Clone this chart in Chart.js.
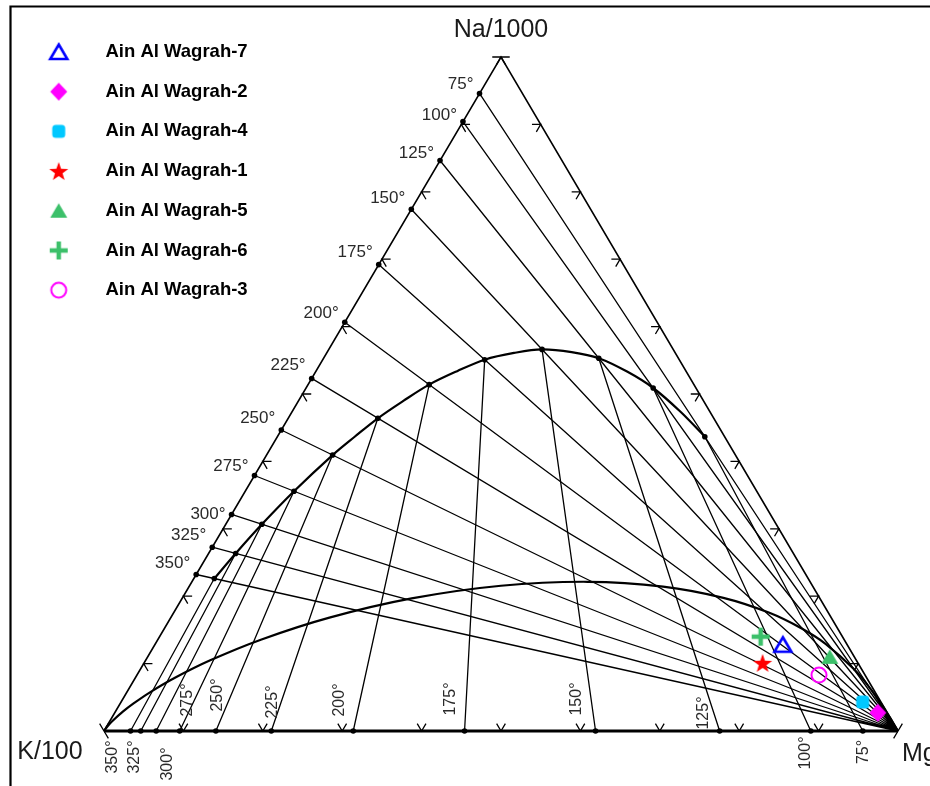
<!DOCTYPE html>
<html>
<head>
<meta charset="utf-8">
<script src="https://cdn.jsdelivr.net/npm/chart.js@4/dist/chart.umd.min.js"></script>
<style>
  html, body { margin: 0; padding: 0; background: #fff; }
  #wrap { width: 930px; height: 786px; }
</style>
</head>
<body>
<div id="wrap"><canvas id="c" width="930" height="786"></canvas></div>
<script>
// ---------------- DATA ----------------
// Giggenbach Na-K-Mg ternary diagram; all compositions are fractions of (Na/1000 + K/100 + sqrt(Mg)).
const temps = [75, 100, 125, 150, 175, 200, 225, 250, 275, 300, 325, 350];
const tempLabels = ['75°', '100°', '125°', '150°', '175°', '200°', '225°', '250°', '275°', '300°', '325°', '350°'];

// K-Na isotherms: Na/1000 fraction where each isotherm meets the Na–K side
const naSideNa = [0.9459, 0.9042, 0.8464, 0.7741, 0.6920, 0.6065, 0.5231, 0.4466, 0.3791, 0.3213, 0.2727, 0.2322];
// K-Mg isotherms: K/100 fraction where each isotherm meets the K–Mg side
const kmgSideK = [0.0443, 0.1098, 0.2246, 0.3809, 0.5459, 0.6861, 0.7893, 0.8591, 0.9047, 0.9343, 0.9537, 0.9666];
// Full-equilibrium points (intersection of the two isotherms of the same temperature)
const eqNa = [0.4366, 0.5089, 0.5531, 0.5662, 0.5509, 0.5139, 0.4640, 0.4094, 0.3558, 0.3067, 0.2634, 0.2262];
const eqMg = [0.5384, 0.4372, 0.3466, 0.2686, 0.2040, 0.1526, 0.1129, 0.0832, 0.0614, 0.0455, 0.0341, 0.0258];

// Full equilibrium line (350° -> 75°)
const fullEqNa = [0.2262, 0.2634, 0.3067, 0.3558, 0.4094, 0.4366, 0.4640, 0.4898, 0.5139, 0.5339, 0.5509, 0.5609, 0.5662, 0.5621, 0.5531, 0.5329, 0.5089, 0.4736, 0.4366];
const fullEqMg = [0.0258, 0.0341, 0.0455, 0.0614, 0.0832, 0.0974, 0.1129, 0.1321, 0.1526, 0.1778, 0.2040, 0.2360, 0.2686, 0.3079, 0.3466, 0.3929, 0.4372, 0.4893, 0.5384];

// Partial equilibrium (immature waters) line, K vertex -> Mg vertex
const partEqNa = [0, 0.0070, 0.0144, 0.0290, 0.0409, 0.0570, 0.0782, 0.1048, 0.1358, 0.1682, 0.1967, 0.2155, 0.2214, 0.2143, 0.1976, 0.1757, 0.1521, 0.1293, 0.0901, 0.0611, 0.0409, 0.0271, 0.0179, 0];
const partEqMg = [0, 0.0010, 0.0031, 0.0096, 0.0168, 0.0289, 0.0491, 0.0814, 0.1305, 0.1998, 0.2891, 0.3922, 0.4983, 0.5970, 0.6813, 0.7494, 0.8027, 0.8441, 0.9009, 0.9359, 0.9580, 0.9726, 0.9820, 1];

// Side graduations (fraction along each side)
const sideTicks = [0, 0.1, 0.2, 0.3, 0.4, 0.5, 0.6, 0.7, 0.8, 0.9, 1];

// Samples (% of Na/1000, K/100, sqrt(Mg))
const sampleNames = ['Ain Al Wagrah-7', 'Ain Al Wagrah-2', 'Ain Al Wagrah-4', 'Ain Al Wagrah-1', 'Ain Al Wagrah-5', 'Ain Al Wagrah-6', 'Ain Al Wagrah-3'];
const sampleNa = [12.8, 2.7, 4.3, 10.1, 11.0, 14.0, 8.3];
const sampleK  = [8.1, 1.2, 2.3, 12.0, 3.1, 10.3, 5.8];
const sampleMg = [79.1, 96.1, 93.4, 77.9, 85.9, 75.7, 85.9];

// ---------------- LAYOUT / STYLE ----------------
const W = 930, H = 786, PAD_TOP = 21;
const VX0 = 104, VX1 = 898, VY0 = 731, VY1 = 57;   // where the triangle vertices sit
const UX = VX1 - VX0, UY = VY0 - VY1;
const FONT = '"Liberation Sans", Arial, Helvetica, sans-serif';
const TICK = 0.011;
const leftLabelDy = [-9, -6, -7, -11, -12, -9, -13, -12, -9, 0, -12, -11];
const bottomLabelOff = [[1, 21], [-5, 22], [-16, -18], [-19, -32], [-14, -32], [-14, -31], [1, -29], [2, -36], [8, -31], [11, 33], [-6, 26], [-18, 26]];

// ternary (Na, Mg fractions) -> plane
const V = (na, mg) => ({ x: mg + na / 2, y: na });
const GAP = { x: NaN, y: NaN };

// ---------------- MARKERS ----------------
function marker(size, draw) {
  const c = document.createElement('canvas');
  c.width = size; c.height = size;
  const g = c.getContext('2d');
  draw(g, size / 2);
  return c;
}
const GREEN = '#3cc06a';
const markers = [
  marker(24, (g, m) => { g.strokeStyle = '#0000ff'; g.lineWidth = 2.6; g.beginPath(); g.moveTo(m, m - 7.5); g.lineTo(m + 8.5, m + 7); g.lineTo(m - 8.5, m + 7); g.closePath(); g.stroke(); }),
  marker(22, (g, m) => { g.fillStyle = '#ff00ff'; g.beginPath(); g.moveTo(m, m - 9); g.lineTo(m + 8.5, m); g.lineTo(m, m + 9); g.lineTo(m - 8.5, m); g.closePath(); g.fill(); }),
  marker(18, (g, m) => { g.fillStyle = '#00c8ff'; const s = 6.5, r = 3.5; g.beginPath();
    g.moveTo(m - s + r, m - s); g.lineTo(m + s - r, m - s); g.arcTo(m + s, m - s, m + s, m - s + r, r);
    g.lineTo(m + s, m + s - r); g.arcTo(m + s, m + s, m + s - r, m + s, r);
    g.lineTo(m - s + r, m + s); g.arcTo(m - s, m + s, m - s, m + s - r, r);
    g.lineTo(m - s, m - s + r); g.arcTo(m - s, m - s, m - s + r, m - s, r); g.closePath(); g.fill(); }),
  marker(24, (g, m) => { g.fillStyle = '#ff0000'; g.beginPath();
    for (let k = 0; k < 10; k++) { const r = k % 2 ? 4 : 10; const a = -Math.PI / 2 + k * Math.PI / 5;
      const px = m + r * Math.cos(a), py = m + 1 + r * Math.sin(a); k ? g.lineTo(px, py) : g.moveTo(px, py); }
    g.closePath(); g.fill(); }),
  marker(22, (g, m) => { g.fillStyle = GREEN; g.beginPath(); g.moveTo(m, m - 7.5); g.lineTo(m + 8.5, m + 7); g.lineTo(m - 8.5, m + 7); g.closePath(); g.fill(); }),
  marker(22, (g, m) => { g.strokeStyle = GREEN; g.lineWidth = 4.5; g.beginPath(); g.moveTo(m - 9, m); g.lineTo(m + 9, m); g.moveTo(m, m - 9); g.lineTo(m, m + 9); g.stroke(); }),
  marker(22, (g, m) => { g.strokeStyle = '#ff00ff'; g.lineWidth = 2; g.beginPath(); g.arc(m, m, 7.5, 0, Math.PI * 2); g.stroke(); })
];

// ---------------- DATASETS ----------------
const datasets = [];
sampleNames.forEach((name, i) => {
  datasets.push({
    label: name,
    data: [V(sampleNa[i] / 100, sampleMg[i] / 100)],
    showLine: false, pointStyle: markers[i], pointRadius: 9,
    borderColor: '#000', backgroundColor: '#000'
  });
});
const SAMPLE_COUNT = datasets.length;

function lineSet(data, width) {
  return { data, borderColor: '#000', borderWidth: width, pointRadius: 0, tension: 0, spanGaps: false };
}
// dots
const dots = [];
temps.forEach((t, i) => {
  dots.push(V(eqNa[i], eqMg[i]));
  dots.push(V(naSideNa[i], 0));
  dots.push(V(0, 1 - kmgSideK[i]));
});
datasets.push({ data: dots, showLine: false, pointRadius: 2.8, pointBackgroundColor: '#000', pointBorderWidth: 0 });

// curves
datasets.push(Object.assign(lineSet(fullEqNa.map((a, i) => V(a, fullEqMg[i])), 2.2), { tension: 0.35 }));
datasets.push(Object.assign(lineSet(partEqNa.map((a, i) => V(a, partEqMg[i])), 2.2), { tension: 0.35 }));

// K-Na isotherms from the Mg vertex to the Na-K side
const kna = [];
temps.forEach((t, i) => { kna.push(V(0, 1), V(naSideNa[i], 0), GAP); });
datasets.push(lineSet(kna, 1.3));
// K-Mg isotherms from the K-Mg side up to the full equilibrium line
const kmg = [];
temps.forEach((t, i) => { kmg.push(V(0, 1 - kmgSideK[i]), V(eqNa[i], eqMg[i]), GAP); });
datasets.push(lineSet(kmg, 1.3));

// triangle
datasets.push(lineSet([V(0, 0), V(1, 0), V(0, 1)], 1.6));
datasets.push(lineSet([V(0, 0), V(0, 1)], 3));

// side graduation marks
const ticks = [];
sideTicks.forEach(f => {
  const b = V(0, f);
  ticks.push({ x: b.x - TICK / 2, y: TICK }, b, { x: b.x + TICK / 2, y: TICK }, GAP);
  const l = V(f, 0);
  ticks.push({ x: l.x + TICK, y: l.y }, l, { x: l.x + TICK / 2, y: l.y - TICK }, GAP);
  const r = V(f, 1 - f);
  ticks.push({ x: r.x - TICK, y: r.y }, r, { x: r.x - TICK / 2, y: r.y - TICK }, GAP);
});
datasets.push(lineSet(ticks, 1.3));

// ---------------- TEXT OVERLAY ----------------
const overlay = {
  id: 'overlay',
  afterDraw(chart) {
    const { ctx, scales: { x, y } } = chart;
    const px = (na, mg) => x.getPixelForValue(mg + na / 2);
    const py = (na) => y.getPixelForValue(na);
    ctx.save();
    ctx.strokeStyle = '#000'; ctx.lineWidth = 2.2;
    ctx.beginPath(); ctx.moveTo(10.5, H); ctx.lineTo(10.5, 6.5); ctx.lineTo(W, 6.5); ctx.stroke();

    ctx.fillStyle = '#1a1a1a';
    ctx.font = '25px ' + FONT; ctx.textBaseline = 'middle';
    ctx.textAlign = 'center';
    ctx.fillText('Na/1000', px(1, 0), py(1) - 27);
    ctx.fillText('K/100', px(0, 0) - 54, py(0) + 21);
    ctx.textAlign = 'left';
    ctx.fillText('Mg', px(0, 1) + 4, py(0) + 23);

    ctx.fillStyle = '#2a2a2a';
    ctx.font = '17px ' + FONT; ctx.textAlign = 'right';
    temps.forEach((t, i) => {
      ctx.fillText(tempLabels[i], px(naSideNa[i], 0) - 6, py(naSideNa[i]) + leftLabelDy[i]);
    });
    ctx.font = '16px ' + FONT; ctx.textAlign = 'center';
    temps.forEach((t, i) => {
      const bx = px(0, 1 - kmgSideK[i]), by = py(0);
      ctx.save();
      ctx.translate(bx + bottomLabelOff[i][0], by + bottomLabelOff[i][1]);
      ctx.rotate(-Math.PI / 2);
      ctx.fillText(tempLabels[i], 0, 0);
      ctx.restore();
    });
    ctx.restore();
  }
};

new Chart(document.getElementById('c'), {
  type: 'line',
  data: { datasets },
  options: {
    responsive: false,
    animation: false,
    events: [],
    layout: { autoPadding: false, padding: { top: PAD_TOP, left: 0, right: 0, bottom: 0 } },
    scales: {
      x: { type: 'linear', display: false, min: -VX0 / UX, max: (W - VX0) / UX },
      y: { type: 'linear', display: false, min: -(H - VY0) / UY, max: 1 + (VY1 - PAD_TOP) / UY }
    },
    plugins: {
      legend: {
        position: 'chartArea', align: 'start',
        title: { display: true, text: '', padding: 0, font: { size: 21.5, lineHeight: 1 } },
        labels: {
          usePointStyle: true, pointStyleWidth: 75, padding: 21.2, color: '#000',
          font: { family: FONT, size: 18.5, weight: 'bold' },
          filter: (item) => item.datasetIndex < SAMPLE_COUNT
        }
      },
      tooltip: { enabled: false }
    }
  },
  plugins: [overlay]
});
</script>
</body>
</html>
